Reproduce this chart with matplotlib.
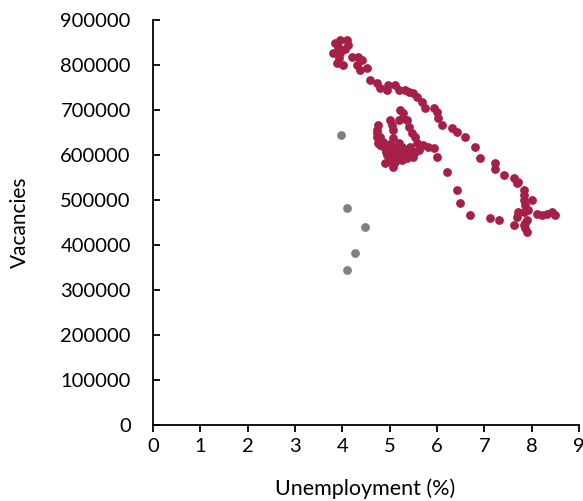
import matplotlib

matplotlib.use("Agg")
import matplotlib.pyplot as plt

plt.rcParams["font.family"] = ["Lato", "DejaVu Sans"]

C_RED = "#A51F47"
C_GREY = "#808080"

# unemployment rate (%) / vacancies
unemp_red = [
    3.85, 3.95, 4.10, 4.13, 3.81, 3.95, 3.88, 4.02, 4.20, 4.34, 4.41, 4.31, 4.38, 4.52,
    4.59, 4.73, 4.80, 4.94, 4.97, 5.12, 5.19, 5.33, 5.40, 5.50, 5.58, 5.68, 5.75, 5.93,
    6.00, 6.03, 6.10, 6.32, 6.42, 6.60, 6.81, 6.91, 7.23, 7.23, 7.41, 7.62, 7.72, 7.69,
    7.83, 7.83, 7.83, 8.01, 7.86, 7.72, 7.83, 7.93, 8.11, 8.22, 8.32, 8.43, 8.50, 7.69,
    7.62, 7.86, 7.86, 7.90, 7.83, 7.90, 7.30, 7.12, 6.70, 6.49, 6.42, 6.21, 6.00, 5.93,
    5.71, 5.80, 3.90, 4.05, 3.92,
    5.22, 5.29, 5.29, 5.19, 5.36, 5.01, 5.05, 5.08, 5.40, 5.47, 5.54, 5.58, 5.61, 4.76,
    4.73, 4.73, 4.76, 4.87, 4.97, 5.08, 5.19, 5.26, 5.33, 5.40, 5.43, 5.12, 5.19, 4.91,
    5.05, 5.36, 5.50, 5.54, 5.08, 5.01, 5.07, 4.73, 4.80, 4.93, 5.04, 5.14, 5.29, 5.12,
    4.80, 4.85, 5.00, 5.10, 5.20, 5.25, 4.95,
]
vac_red = [
    848000, 855000, 855000, 844000, 826000, 826000, 804000, 800000, 818000, 818000,
    811000, 800000, 789000, 793000, 767000, 759000, 748000, 744000, 756000, 756000,
    744000, 744000, 741000, 737000, 730000, 718000, 704000, 704000, 696000, 682000,
    667000, 659000, 652000, 641000, 618000, 593000, 582000, 570000, 556000, 548000,
    541000, 537000, 522000, 511000, 500000, 500000, 489000, 474000, 474000, 478000,
    470000, 467000, 470000, 474000, 467000, 463000, 444000, 448000, 437000, 430000,
    444000, 456000, 456000, 459000, 467000, 493000, 522000, 563000, 596000, 615000,
    622000, 618000, 840000, 835000, 815000,
    700000, 693000, 682000, 678000, 678000, 678000, 667000, 656000, 663000, 648000,
    641000, 626000, 611000, 667000, 656000, 641000, 626000, 618000, 611000, 618000,
    626000, 618000, 611000, 604000, 618000, 596000, 593000, 582000, 585000, 593000,
    596000, 607000, 637000, 596000, 573000, 648000, 622000, 607000, 607000, 611000,
    600000, 584000,
    640000, 630000, 625000, 605000, 600000, 590000, 600000,
]

unemp_grey = [3.97, 4.10, 4.47, 4.26, 4.10]
vac_grey = [644000, 483000, 439000, 383000, 344000]

x_ticks = list(range(0, 10))
y_ticks = list(range(0, 900001, 100000))

fig = plt.figure(figsize=(5.83, 5.01), dpi=100)
ax = fig.add_axes([153 / 583, 76 / 501, 426 / 583, 405 / 501])

ax.scatter(unemp_red, vac_red, s=40, color=C_RED, lw=0, zorder=3)
ax.scatter(unemp_grey, vac_grey, s=40, color=C_GREY, lw=0, zorder=3)

ax.set_xlim(0, 9)
ax.set_ylim(0, 900000)
ax.set_xticks(x_ticks)
ax.set_yticks(y_ticks)
ax.set_yticklabels([str(v) for v in y_ticks])

for side in ("top", "right"):
    ax.spines[side].set_visible(False)
for side in ("left", "bottom"):
    ax.spines[side].set_linewidth(1.3)
    ax.spines[side].set_color("black")
ax.tick_params(axis="x", direction="out", length=5, width=1.3, pad=4, labelsize=14.5)
ax.tick_params(axis="y", direction="in", length=5, width=1.3, pad=16, labelsize=14.5)

ax.set_xlabel("Unemployment (%)", fontsize=15.5)
ax.set_ylabel("Vacancies", fontsize=15)
ax.xaxis.set_label_coords(0.498, -0.133)
ax.yaxis.set_label_coords(-0.29, 0.5)

fig.savefig("out.png", dpi=100)
